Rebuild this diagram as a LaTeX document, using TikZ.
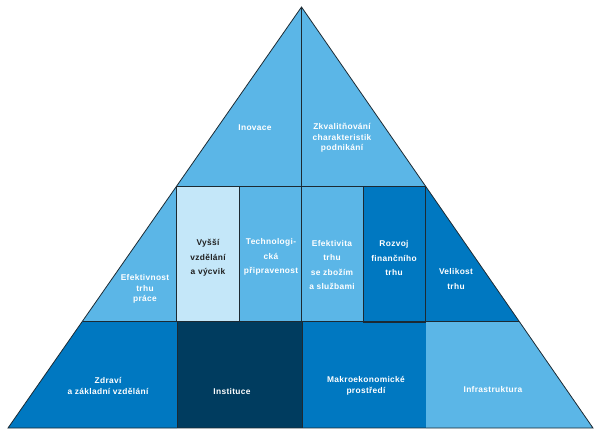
\documentclass[tikz,border=0pt]{standalone}
\usepackage{fontspec}
\setmainfont{Liberation Sans}[LetterSpace=4.0]
\usetikzlibrary{calc}
\definecolor{cNavy}{HTML}{003C5F}
\definecolor{cDark}{HTML}{0078C1}
\definecolor{cMid} {HTML}{5BB6E7}
\definecolor{cPale}{HTML}{C4E7F9}
\definecolor{cEdge}{HTML}{1C2A33}
\tikzset{
  edge/.style   ={draw=cEdge,line width=0.8pt,line join=miter},
  cell/.style   ={edge},
  lbl/.style    ={font=\fontsize{8.4}{10.5}\selectfont\bfseries,text=white,
                  align=center,inner sep=0pt},
  lblwide/.style={lbl,font=\fontsize{8.4}{14.5}\selectfont\bfseries},
}

\begin{document}
\begin{tikzpicture}[x=1bp, y=-1bp]
\useasboundingbox (0,0) rectangle (612,432);

% corners of the pyramid and where the two row lines cut its sides
\coordinate (apex) at (301.5,7);
\coordinate (bl)   at (8,428);
\coordinate (br)   at (593,428);
\coordinate (l1)   at (176.7,186);
\coordinate (r1)   at (425.4,186);
\coordinate (l2)   at (82.6,321);
\coordinate (r2)   at (518.9,321);

% top triangle
\fill[cMid] (apex) -- (l1) -- (r1) -- cycle;

% middle row, the two slanted ends
\fill[cMid]  (l1) -- (l2) -- (l2 -| l1) -- cycle;
\fill[cDark] (r1) -- (r2) -- (r2 -| r1) -- cycle;

% bottom row
\fill[cDark] (l2) -- (bl) -- (177,428) -- (177,321) -- cycle;
\fill[cNavy] (177,321) rectangle (302,428);
\fill[cDark] (302,321) rectangle (426,428);
\fill[cMid]  (426,321) -- (r2) -- (br) -- (426,428) -- cycle;

% middle row boxes
\filldraw[cell,fill=cPale] (l1) rectangle (239,321);
\filldraw[cell,fill=cMid]  (239,186) rectangle (301.5,321);
\filldraw[cell,fill=cMid]  (301.5,186) rectangle (363,321);
\filldraw[cell,fill=cDark] (363,186) rectangle (425.4,322);

% outlines
\draw[edge] (apex) -- (bl) -- (br) -- cycle;
\draw[edge] (apex) -- (apex |- l1);
\draw[edge] (l2) -- (r2);
\draw[edge] (177,321) -- (177,428);
\draw[edge] (302,321) -- (302,428);

% labels
\node[lbl] (inov)  at (255,128) {Inovace};
\node[lbl] (zkval) at (342,138) {Zkvalitňování\\charakteristik\\podnikání};

\node[lbl]     (efprace) at (145,289)   {Efektivnost\\trhu\\práce};
\node[lblwide,text=black!88] (vyssi) at (208,258) {Vyšší\\vzdělání\\a výcvik};
\node[lblwide] (techno)  at (271,257)   {Technologi-\\cká\\připravenost};
\node[lblwide] (efzbozi) at (332,265)   {Efektivita\\trhu\\se zbožím\\a službami};
\node[lblwide] (rozvoj)  at (394,258)   {Rozvoj\\finančního\\trhu};
\node[lblwide] (velik)   at (456,279)   {Velikost\\trhu};

\node[lbl] (zdravi) at (108,386) {Zdraví\\a základní vzdělání};
\node[lbl] (inst)   at (232,391) {Instituce};
\node[lbl] (makro)  at (366,386) {Makroekonomické\\prostředí};
\node[lbl] (infra)  at (493,389) {Infrastruktura};
\end{tikzpicture}
\end{document}
